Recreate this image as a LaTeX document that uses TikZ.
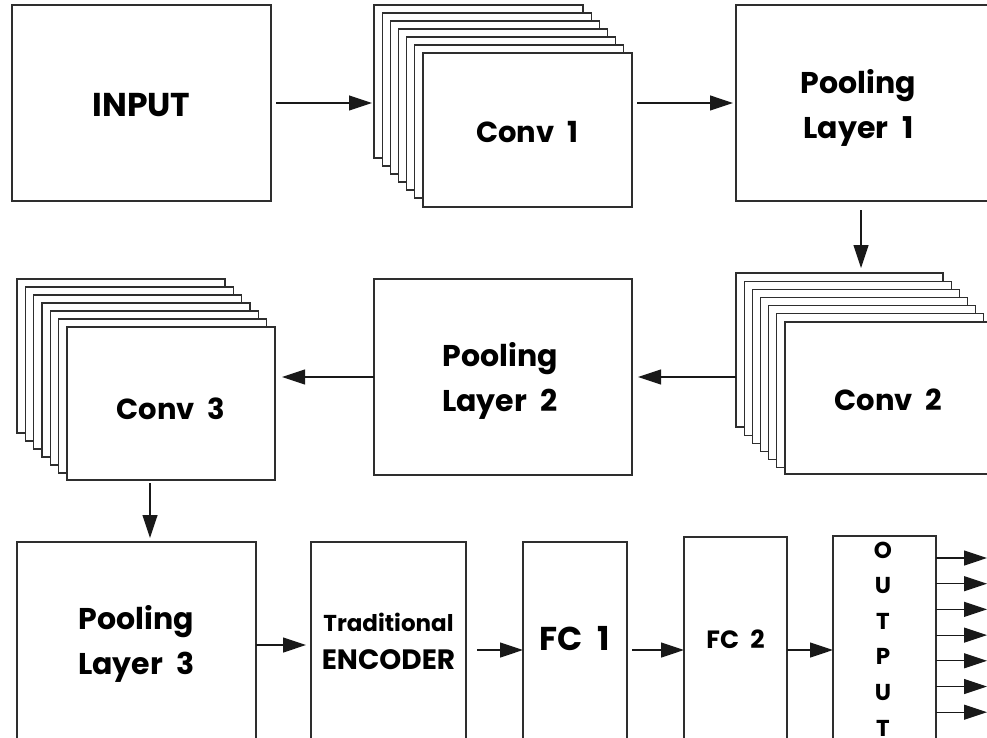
\documentclass[tikz,border=0pt]{standalone}
\usepackage{fontspec}
\setmainfont{Poppins}
\usetikzlibrary{arrows.meta,calc}
\newcommand{\gap}{\hspace{0.45em}}
\tikzset{
  box/.style={draw=black!82, line width=1.2pt, fill=white, inner sep=0pt, outer sep=0pt, anchor=north west},
  lbl/.style={font=\fontsize{30}{45}\selectfont\bfseries, align=center, text=black},
  arr/.style={draw=black!90, line width=1.2pt, -{Triangle[length=23pt,width=15pt]}},
}
\begin{document}
\begin{tikzpicture}[x=1pt,y=-1pt]
\useasboundingbox (0,0) rectangle (987,738);
\clip (0,0) rectangle (987,738);

% ---- first row ----
\node[box, minimum width=259pt, minimum height=196pt] (input) at (12,5) {};
\node[lbl, font=\fontsize{33}{40}\selectfont\bfseries] at ([yshift=-2pt]input.center) {INPUT};

% Conv 1: stack of feature maps
\foreach \i in {0,...,5}
  \node[box, minimum width=209pt, minimum height=153pt] (c1l\i) at ({374+8.17*\i},{5+8*\i}) {};
\node[box, minimum width=209pt, minimum height=154pt] (conv1) at (423,53) {};
\node[lbl, font=\fontsize{29}{40}\selectfont\bfseries] at ([yshift=-2pt]conv1.center) {Conv\gap 1};

\node[box, minimum width=259pt, minimum height=196pt] (pool1) at (736,5) {};
\node[lbl] at ([xshift=-7pt,yshift=-5pt]pool1.center) {Pooling\\Layer\gap 1};

% ---- second row ----
\foreach \i in {0,...,5}
  \node[box, minimum width=207pt, minimum height=154pt] (c2l\i) at ({736+8.17*\i},{273+8.17*\i}) {};
\node[box, minimum width=207pt, minimum height=152pt] (conv2) at (785,322) {};
\node[lbl, font=\fontsize{29}{40}\selectfont\bfseries] at ([yshift=-2pt]conv2.center) {Conv\gap 2};

\node[box, minimum width=258pt, minimum height=196pt] (pool2) at (374,279) {};
\node[lbl] at ([xshift=-3pt,yshift=-4pt]pool2.center) {Pooling\\Layer\gap 2};

\foreach \i in {0,...,5}
  \node[box, minimum width=208pt, minimum height=154pt] (c3l\i) at ({17+8.33*\i},{279+8*\i}) {};
\node[box, minimum width=208pt, minimum height=153pt] (conv3) at (67,327) {};
\node[lbl, font=\fontsize{29}{40}\selectfont\bfseries] at ([yshift=-5pt]conv3.center) {Conv\gap 3};

% ---- third row ----
\node[box, minimum width=239pt, minimum height=206pt] (pool3) at (17,542) {};
\node[lbl] at ([yshift=1pt]pool3.center) {Pooling\\Layer\gap 3};

\node[box, minimum width=155pt, minimum height=216pt] (enc) at (311,542) {};
\node[align=center, text=black, font=\fontsize{28}{38}\selectfont\bfseries] at ([yshift=9pt]enc.center)
  {{\fontsize{23}{38}\selectfont Traditional}\\ENCODER};

\node[box, minimum width=104pt, minimum height=216pt] (fc1) at (523,542) {};
\node[lbl, font=\fontsize{33}{40}\selectfont\bfseries] at ([yshift=11pt]fc1.center) {FC\gap 1};

\node[box, minimum width=103pt, minimum height=226pt] (fc2) at (684,537) {};
\node[lbl, font=\fontsize{25}{30}\selectfont\bfseries] at ([yshift=11pt]fc2.center) {FC\gap 2};

\node[box, minimum width=103pt, minimum height=228pt] (out) at (833,536) {};
\foreach \c [count=\k] in {O,U,T,P,U,T}
  \node[font=\fontsize{23}{26}\selectfont\bfseries, text=black] at (883,{550+35.6*(\k-1)}) {\c};

% ---- connectors ----
\draw[arr, shorten <=5pt, shorten >=2pt] (input.east) -- (input.east -| c1l0.west);
\draw[arr, shorten <=5pt, shorten >=3pt] (conv1.east |- pool1.west) -- (pool1.west);
\draw[arr, shorten <=9pt, shorten >=5pt] ([xshift=-4.5pt]pool1.south) -- ([xshift=-4.5pt]pool1.south |- c2l0.north);
\draw[arr, shorten >=6pt] (c2l0.west |- pool2.east) -- (pool2.east);
\draw[arr, shorten >=7pt] (pool2.west) -- (pool2.west -| conv3.east);
\draw[arr, shorten <=3pt, shorten >=4pt] ([xshift=-21pt]conv3.south) -- ([xshift=-21pt]conv3.south |- pool3.north);
\draw[arr, shorten >=5pt] (pool3.east) -- (pool3.east -| enc.west);
\draw[arr, shorten <=11pt] (enc.east) -- (enc.east -| fc1.west);
\draw[arr, shorten <=5pt] (fc1.east) -- (fc1.east -| fc2.west);
\draw[arr] (fc2.east) -- (fc2.east -| out.west);

% output lines
\foreach \k in {0,...,6} {
  \coordinate (o\k) at (987,{558+25.7*\k});
  \draw[arr] (out.east |- o\k) -- (o\k);
}
\end{tikzpicture}
\end{document}
